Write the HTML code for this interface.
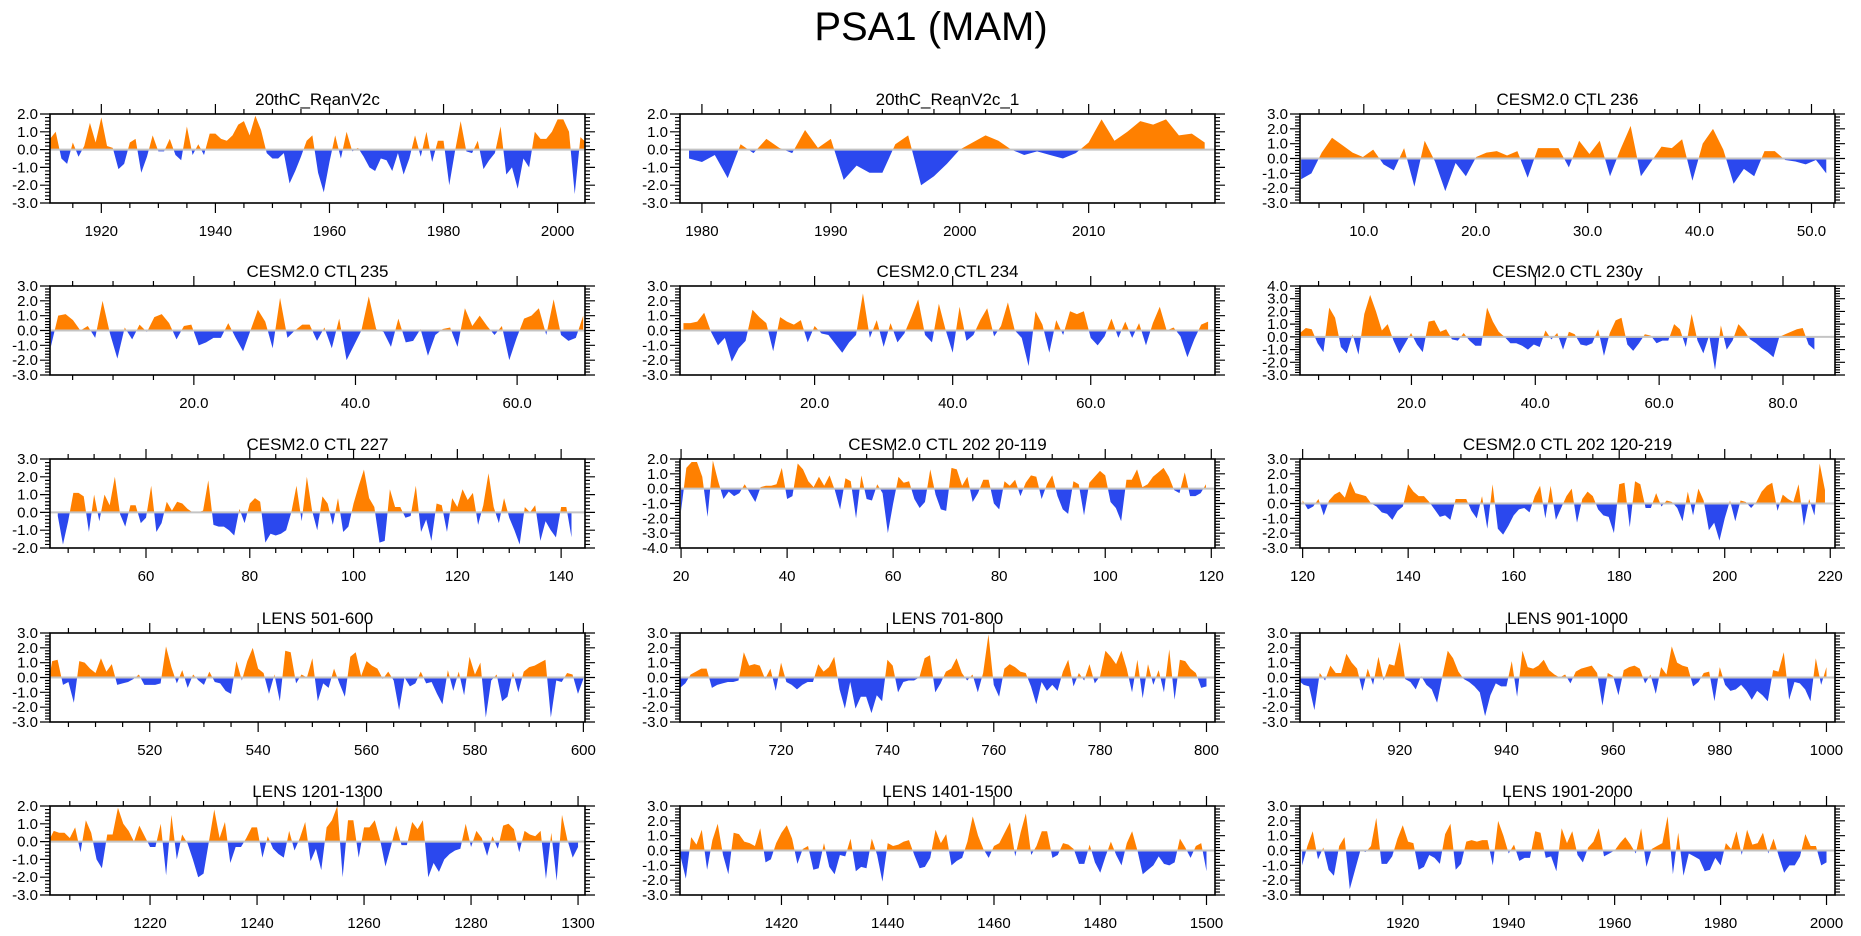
<!DOCTYPE html>
<html>
<head>
<meta charset="utf-8">
<style>
  html,body{margin:0;padding:0;background:#fff;}
  svg{display:block;font-family:"Liberation Sans",Arial,sans-serif;}
</style>
</head>
<body>
<svg id="chart" width="1861" height="936" viewBox="0 0 1861 936" xmlns="http://www.w3.org/2000/svg">
  <text x="931" y="40" text-anchor="middle" font-size="40" fill="#000">PSA1 (MAM)</text>
</svg>
<script>
// ---------- data (one array per panel) ----------
const p1Title = "20thC_ReanV2c";
const p1Start = 1911;
const p1Vals = [0.6,1.0,-0.5,-0.8,0.4,-0.4,0.2,1.5,0.4,1.8,0.2,0.1,-1.1,-0.8,0.4,0.6,-1.3,-0.4,0.8,-0.1,-0.1,0.6,-0.3,-0.6,1.3,-0.3,0.3,-0.3,0.9,0.9,0.6,0.5,0.8,1.4,1.6,0.8,1.9,1.1,-0.2,-0.5,-0.5,-0.2,-1.9,-1.2,-0.4,0.5,0.8,-1.3,-2.4,-0.7,0.8,-0.5,1.0,-0.1,0.1,-0.4,-1.0,-1.2,-0.5,-0.6,-1.2,-0.2,-1.4,-0.5,0.8,-0.4,1.0,-0.7,0.5,0.5,-2.0,-0.1,1.6,-0.1,-0.2,0.5,-1.1,-0.6,-0.2,1.3,-1.4,-1.0,-2.2,-0.5,-1.0,1.0,0.6,0.6,1.0,1.7,1.7,1.0,-2.5,0.7,0.4];

const p2Title = "20thC_ReanV2c_1";
const p2Start = 1979;
const p2Vals = [-0.5,-0.7,-0.3,-1.6,0.3,-0.2,0.6,0.1,-0.2,1.1,0.1,0.6,-1.7,-0.9,-1.3,-1.3,0.3,0.8,-2.0,-1.5,-0.8,0.0,0.4,0.8,0.5,0.0,-0.3,-0.1,-0.3,-0.5,-0.2,0.4,1.7,0.5,1.0,1.6,1.4,1.7,0.8,0.9,0.4];

const p3Title = "CESM2.0 CTL 236";
const p3Start = 4.4;
const p3Vals = [-1.4,-1.0,0.4,1.4,0.9,0.4,0.1,0.6,-0.4,-0.8,0.7,-1.9,1.2,-0.2,-2.2,-0.3,-1.2,0.1,0.4,0.5,0.2,0.5,-1.3,0.7,0.7,0.7,-0.6,1.2,0.3,1.2,-1.2,0.6,2.2,-1.2,-0.2,0.8,0.7,1.3,-1.5,1.0,2.0,0.6,-1.7,-0.7,-1.2,0.5,0.5,-0.1,-0.2,-0.4,-0.1,-1.0];

const p4Title = "CESM2.0 CTL 235";
const p4Start = 2.3;
const p4Vals = [-1.1,1.0,1.1,0.7,0.0,0.3,-0.5,2.0,-0.2,-1.9,0.2,-0.6,0.4,-0.1,0.9,1.1,0.5,-0.6,0.3,0.4,-1.0,-0.8,-0.5,-0.5,0.5,-0.5,-1.4,0.0,1.4,0.6,-1.2,2.2,-0.5,0.0,0.4,0.4,-0.7,0.2,-1.2,0.8,-2.0,-1.0,0.0,2.3,0.1,-0.1,-1.1,0.8,-0.8,-0.7,0.1,-1.7,-0.3,0.1,0.2,-1.1,1.5,0.3,1.0,0.3,-0.3,0.3,-2.0,-0.5,0.8,1.0,1.5,-0.3,2.1,-0.3,-0.7,-0.5,1.0];

const p5Title = "CESM2.0 CTL 234";
const p5Start = 1;
const p5Vals = [0.5,0.5,0.6,1.2,-0.1,-1.0,-0.5,-2.1,-1.2,-0.7,1.4,0.9,0.5,-1.4,0.9,0.6,0.4,0.7,-0.8,0.3,-0.2,-0.3,-0.9,-1.5,-0.8,-0.3,2.5,-0.5,0.7,-1.1,0.5,-0.8,-0.2,0.9,2.1,-0.3,-0.8,1.8,0.0,-1.5,1.6,-0.7,-0.3,0.7,1.5,-0.4,0.3,1.9,0.0,-0.5,-2.4,1.3,0.4,-1.5,0.7,-0.3,1.3,1.1,1.3,-0.5,-1.0,-0.4,0.8,-0.5,0.6,-0.5,0.5,-1.0,0.5,1.6,0.0,0.2,-0.4,-1.8,-0.6,0.4,0.6];

const p6Title = "CESM2.0 CTL 230y";
const p6Start = 2;
const p6Vals = [0.3,0.7,0.6,-0.5,-1.2,2.3,1.5,-0.8,-1.3,0.2,-1.4,1.8,3.3,2.0,0.5,1.0,-0.3,-1.3,-0.5,0.3,-0.6,-1.2,1.2,1.3,0.4,0.6,-0.2,-0.3,0.3,-0.3,-0.7,-0.7,2.3,1.2,0.4,0.0,-0.5,-0.5,-0.7,-1.0,-0.6,-0.8,0.5,-0.2,0.3,-1.0,0.4,0.2,-0.6,-0.7,-0.5,0.6,-1.5,0.3,1.3,1.5,-0.6,-1.1,-0.5,0.2,0.1,-0.5,-0.3,-0.3,1.0,0.6,-0.8,1.8,-0.3,-1.3,0.1,-2.6,0.9,-1.0,-0.3,1.0,0.5,-0.2,-0.5,-0.9,-1.2,-1.6,0.0,0.2,0.4,0.6,0.7,-0.6,-1.0];

const p7Title = "CESM2.0 CTL 227";
const p7Start = 43;
const p7Vals = [-0.2,-1.8,-0.5,1.1,1.1,0.9,-1.1,1.0,-0.5,1.0,0.4,2.0,-0.1,-0.8,0.4,0.4,-0.6,-0.3,1.5,-1.1,-0.6,0.6,0.1,0.6,0.5,0.2,0.0,0.0,0.1,1.8,-0.7,-0.8,-0.8,-1.0,-1.3,0.2,-0.6,0.5,0.8,0.6,-1.7,-1.2,-1.3,-1.2,-1.0,0.0,1.5,-0.5,2.0,0.1,-1.0,0.9,0.5,-0.7,0.8,-1.1,-0.8,0.5,1.5,2.4,0.8,0.3,-1.7,-1.6,1.3,0.3,0.3,-0.3,-0.2,1.5,-1.1,-0.4,-1.6,0.5,0.4,-1.1,0.8,0.3,1.3,0.7,1.1,-0.7,0.4,2.2,0.3,-0.6,0.8,-0.3,-1.0,-1.8,0.3,0.0,0.4,-1.6,-0.5,-1.0,-1.4,0.3,0.3,-1.4];

const p8Title = "CESM2.0 CTL 202 20-119";
const p8Start = 20;
const p8Vals = [-1.5,1.4,1.8,1.8,0.8,-1.9,1.9,0.5,-0.7,-0.2,-0.5,-0.3,0.3,-0.3,-0.9,0.1,0.2,0.2,0.3,1.4,-0.7,-0.5,1.7,1.3,0.5,0.1,0.8,0.2,0.9,-0.1,-1.4,0.7,0.5,-2.0,0.9,-0.7,-0.8,0.3,-0.3,-3.0,-1.0,0.8,0.4,0.5,-0.7,-1.3,-0.9,1.3,-0.4,-1.4,-1.5,1.4,1.3,0.2,0.8,-0.9,-0.3,0.6,0.6,-1.0,-1.4,0.5,0.2,0.6,-0.5,0.4,0.9,0.8,-0.7,0.3,0.9,-0.5,-1.4,-1.7,0.5,0.3,-1.8,0.4,0.8,1.2,0.9,-0.9,-1.3,-2.2,0.6,0.6,1.3,0.1,0.3,0.8,1.1,1.4,0.8,-0.1,-0.3,1.1,-0.5,-0.5,-0.3,0.3];

const p9Title = "CESM2.0 CTL 202 120-219";
const p9Start = 120;
const p9Vals = [0.2,-0.4,-0.2,0.3,-0.8,0.2,0.6,0.8,0.4,1.5,0.7,0.6,0.5,0.0,-0.2,-0.6,-0.7,-1.1,-0.5,-0.2,1.3,0.8,0.5,0.5,0.1,-0.4,-0.9,-0.8,-1.1,0.3,0.3,0.3,-0.5,-1.0,0.5,-1.7,1.3,-1.7,-2.1,-1.5,-0.8,-0.4,-0.3,-0.6,0.5,1.2,-1.0,1.2,-1.1,-0.3,0.5,1.0,-1.3,0.3,0.8,0.5,-0.4,-0.8,-0.9,-2.0,1.3,1.4,-1.6,1.5,1.3,-0.3,-0.3,0.7,-0.2,0.2,0.1,-0.3,-1.2,0.8,-0.8,1.0,0.2,-1.8,-1.3,-2.5,-1.0,0.2,-1.2,0.2,0.1,-0.3,0.1,0.8,1.2,1.4,-0.5,0.6,0.3,0.1,1.3,-1.5,0.3,-0.8,2.7,0.9];

const p10Title = "LENS 501-600";
const p10Start = 501;
const p10Vals = [-1.0,1.1,1.2,-0.5,-0.3,-1.7,1.1,1.0,0.6,0.3,1.3,0.4,0.9,-0.5,-0.4,-0.3,-0.1,0.2,-0.5,-0.5,-0.5,-0.4,2.1,0.7,-0.4,0.5,-0.7,0.2,-0.2,-0.5,0.4,-0.3,-0.4,-0.9,-1.1,1.1,-0.2,1.1,2.0,0.6,0.3,-1.1,0.2,-1.6,1.8,1.7,-0.4,0.2,0.0,1.3,-1.6,-0.4,-0.7,0.6,-0.4,-1.3,1.4,1.7,0.1,1.1,0.8,0.6,-0.1,0.4,-0.2,-2.2,0.0,-0.6,-0.4,0.4,-0.4,-0.3,-1.1,-1.8,0.5,-0.9,0.4,-1.2,1.4,0.2,1.0,-2.7,-0.2,0.2,-1.6,-1.3,0.4,-1.0,0.4,0.7,0.8,1.0,1.2,-2.7,-0.2,-0.3,0.3,0.2,-1.1,-0.1];

const p11Title = "LENS 701-800";
const p11Start = 701;
const p11Vals = [-0.7,-0.4,0.2,0.4,0.6,0.6,-0.7,-0.5,-0.4,-0.3,-0.3,-0.2,1.7,0.8,0.9,0.8,-0.1,0.6,-0.9,1.0,-0.3,-0.5,-0.8,-0.5,-0.3,-0.3,0.9,0.4,0.7,1.4,-0.8,-2.1,-0.3,-2.1,-1.3,-1.3,-2.4,-1.2,-1.6,1.2,0.8,-1.0,-0.3,-0.2,-0.2,0.0,1.3,1.5,-1.0,-0.4,0.4,0.6,1.3,0.3,-0.2,0.2,-1.0,0.3,2.9,-0.5,-1.3,0.6,0.9,0.7,0.4,0.3,-0.6,-1.8,-0.3,-0.9,-0.5,-0.9,0.4,1.2,-0.6,0.3,-0.2,0.9,-0.4,0.1,1.8,1.4,0.9,1.8,0.6,-1.0,1.2,-1.4,0.9,-0.5,0.5,-1.0,1.9,-1.5,1.2,1.1,0.6,0.3,-0.7,-0.6];

const p12Title = "LENS 901-1000";
const p12Start = 901;
const p12Vals = [-0.2,-0.5,-0.6,-2.2,0.3,-0.2,0.8,0.3,0.3,1.6,1.0,0.6,-0.9,0.6,-0.5,1.4,-0.2,0.9,0.8,2.4,-0.1,-0.3,-0.8,0.1,-0.5,-0.8,-1.7,0.1,1.8,1.3,0.4,-0.1,-0.3,-0.6,-1.0,-2.6,-1.2,-0.4,-0.6,-0.6,1.1,-1.3,1.8,0.7,0.6,0.8,1.2,0.5,0.2,0.0,0.2,-0.4,0.4,0.6,0.7,0.8,0.3,-1.9,0.3,0.1,-1.2,0.5,0.7,0.8,0.6,-0.4,0.2,-1.1,0.7,0.2,2.1,1.0,0.8,0.7,-0.6,-0.3,0.3,0.4,-1.6,0.7,-0.5,-0.9,-0.8,-0.5,-0.9,-1.5,-0.9,-1.2,-1.6,0.5,0.4,1.7,-1.5,-0.3,-0.4,-0.8,-1.6,1.3,-0.5,0.7];

const p13Title = "LENS 1201-1300";
const p13Start = 1201;
const p13Vals = [0.0,0.6,0.5,0.5,0.2,0.8,-0.6,1.2,0.5,-1.0,-1.5,0.4,0.4,1.9,1.0,0.6,0.0,0.9,0.3,-0.3,-0.3,1.0,-1.9,1.5,-1.0,0.4,-0.1,-1.0,-2.0,-1.8,0.0,1.8,0.2,1.1,-1.2,-0.3,-0.3,0.2,0.8,0.8,-0.9,0.3,-0.4,-0.7,-0.9,0.6,-0.5,0.2,1.1,-1.1,-0.4,-1.6,0.8,1.2,2.0,-2.0,1.2,1.2,-0.9,0.8,0.8,1.2,0.1,-1.4,-0.3,0.9,-0.2,-0.2,1.1,0.7,1.2,-2.0,-1.2,-1.7,-1.0,-0.7,-0.5,-0.4,1.0,-0.3,0.6,0.2,-0.8,0.3,-0.4,0.9,1.0,0.7,-0.6,0.6,0.4,0.3,0.6,-2.1,0.5,-2.2,1.5,0.1,-0.9,-0.3];

const p14Title = "LENS 1401-1500";
const p14Start = 1401;
const p14Vals = [-0.4,-1.9,0.9,0.4,1.4,-1.3,0.7,1.8,-0.3,-1.6,1.2,1.1,0.6,0.5,0.3,1.5,-0.8,-0.6,0.5,1.2,1.7,0.8,-0.9,0.1,0.3,-1.3,-1.2,0.5,-1.1,-1.6,-0.3,-0.4,0.8,-1.4,-1.1,-1.2,0.8,-0.3,-2.1,0.5,0.3,0.4,0.6,0.7,-0.3,-1.2,-1.1,-0.5,1.4,0.5,1.1,-1.0,-0.7,-0.5,0.6,2.3,1.0,0.1,-0.5,0.3,0.5,1.2,1.9,-0.4,1.2,2.5,-0.3,0.3,1.3,1.3,-0.5,-0.3,0.5,0.4,0.1,-0.9,-0.9,0.4,-0.8,-1.5,-0.4,0.6,-0.3,-1.0,0.5,1.3,0.0,-1.6,-1.3,-1.0,-0.4,-0.9,-1.0,-0.8,0.8,0.2,-0.5,0.3,0.5,-1.4];

const p15Title = "LENS 1901-2000";
const p15Start = 1901;
const p15Vals = [-1.0,0.3,1.3,-0.6,0.2,-1.3,-1.7,0.3,0.9,-2.6,-1.3,0.0,-0.1,0.3,2.2,-0.9,-0.9,-0.4,0.8,1.7,0.6,0.5,-1.3,-1.1,-0.3,-0.5,-0.9,1.1,1.8,-1.3,-0.9,0.6,0.7,0.6,0.7,0.7,-1.0,2.0,1.0,-0.2,0.4,-0.7,-0.5,-0.5,1.3,1.2,-0.5,-0.4,-1.4,1.5,0.5,1.3,-0.3,-0.8,0.2,0.6,1.5,-0.4,-0.2,0.0,0.5,0.9,0.4,-0.2,1.5,-1.1,0.1,0.3,0.5,2.3,-1.6,1.2,-1.7,-0.2,-0.4,-0.6,-1.4,-1.3,-0.5,-1.0,0.5,0.1,1.3,-0.3,1.4,0.4,0.5,1.2,-0.2,0.8,-0.4,-1.5,-1.0,-1.0,-0.4,1.1,0.3,0.3,-1.0,-0.8];

// ---------- layout ----------
const PW = 535, PH = 89;
const colX = [50, 680, 1300];
const rowY = [114, 286, 459, 633, 806];
const panels = [
  {id:1, title:p1Title, start:p1Start, step:1, vals:p1Vals, c:0,r:0, xmin:1911,xmax:2004.8, ymin:-3,ymax:2, major:20, minor:5, fmt:0},
  {id:2, title:p2Title, start:p2Start, step:1, vals:p2Vals, c:1,r:0, xmin:1978.3,xmax:2019.8, ymin:-3,ymax:2, major:10, minor:2, fmt:0},
  {id:3, title:p3Title, start:p3Start, step:0.92, vals:p3Vals, c:2,r:0, xmin:4.3,xmax:52.1, ymin:-3,ymax:3, major:10, minor:2, fmt:1},
  {id:4, title:p4Title, start:p4Start, step:0.915, vals:p4Vals, c:0,r:1, xmin:2.2,xmax:68.4, ymin:-3,ymax:3, major:20, minor:5, fmt:1},
  {id:5, title:p5Title, start:p5Start, step:1, vals:p5Vals, c:1,r:1, xmin:0.5,xmax:78.0, ymin:-3,ymax:3, major:20, minor:5, fmt:1},
  {id:6, title:p6Title, start:p6Start, step:0.944, vals:p6Vals, c:2,r:1, xmin:2.0,xmax:88.4, ymin:-3,ymax:4, major:20, minor:5, fmt:1},
  {id:7, title:p7Title, start:p7Start, step:1, vals:p7Vals, c:0,r:2, xmin:41.5,xmax:144.6, ymin:-2,ymax:3, major:20, minor:5, fmt:0},
  {id:8, title:p8Title, start:p8Start, step:1, vals:p8Vals, c:1,r:2, xmin:19.8,xmax:120.7, ymin:-4,ymax:2, major:20, minor:5, fmt:0},
  {id:9, title:p9Title, start:p9Start, step:1, vals:p9Vals, c:2,r:2, xmin:119.5,xmax:220.9, ymin:-3,ymax:3, major:20, minor:5, fmt:0},
  {id:10, title:p10Title, start:p10Start, step:1, vals:p10Vals, c:0,r:3, xmin:501.6,xmax:600.3, ymin:-3,ymax:3, major:20, minor:5, fmt:0},
  {id:11, title:p11Title, start:p11Start, step:1, vals:p11Vals, c:1,r:3, xmin:701.0,xmax:801.6, ymin:-3,ymax:3, major:20, minor:5, fmt:0},
  {id:12, title:p12Title, start:p12Start, step:1, vals:p12Vals, c:2,r:3, xmin:901.3,xmax:1001.6, ymin:-3,ymax:3, major:20, minor:5, fmt:0},
  {id:13, title:p13Title, start:p13Start, step:1, vals:p13Vals, c:0,r:4, xmin:1201.3,xmax:1301.3, ymin:-3,ymax:2, major:20, minor:5, fmt:0},
  {id:14, title:p14Title, start:p14Start, step:1, vals:p14Vals, c:1,r:4, xmin:1400.9,xmax:1501.6, ymin:-3,ymax:3, major:20, minor:5, fmt:0},
  {id:15, title:p15Title, start:p15Start, step:1, vals:p15Vals, c:2,r:4, xmin:1900.6,xmax:2001.6, ymin:-3,ymax:3, major:20, minor:5, fmt:0}
];

const NS = "http://www.w3.org/2000/svg";
const svg = document.getElementById("chart");
function mk(tag, attrs, parent){
  const e = document.createElementNS(NS, tag);
  for (const k in attrs) e.setAttribute(k, attrs[k]);
  parent.appendChild(e);
  return e;
}

panels.forEach(p => {
  const L = colX[p.c], T = rowY[p.r];
  const sx = v => L + (v - p.xmin) / (p.xmax - p.xmin) * PW;
  const sy = v => T + (p.ymax - v) / (p.ymax - p.ymin) * PH;
  const xAt = i => p.start + i * p.step;
  const g = mk("g", {}, svg);
  
  

  const title = mk("text", {x: L + PW/2, y: T - 9, "text-anchor":"middle", "font-size":"17", fill:"#000"}, g);
  title.textContent = p.title;
  
  

  const z = sy(0);
  const defs = mk("defs", {}, g);
  const cpA = mk("clipPath", {id:"ca"+p.id}, defs);
  mk("rect", {x:L, y:T, width:PW, height:Math.max(0, z - T)}, cpA);
  const cpB = mk("clipPath", {id:"cb"+p.id}, defs);
  mk("rect", {x:L, y:z, width:PW, height:Math.max(0, T + PH - z)}, cpB);

  const pts = p.vals.map((v,i) => sx(xAt(i)).toFixed(2) + "," + sy(v).toFixed(2));
  const x0 = sx(xAt(0)), x1 = sx(xAt(p.vals.length - 1));
  const d = "M" + pts.join("L") + "L" + x1.toFixed(2) + "," + z.toFixed(2) + "L" + x0.toFixed(2) + "," + z.toFixed(2) + "Z";

  const pos = mk("path", {d: d, fill:"#ff8000", "clip-path":"url(#ca"+p.id+")"}, g);
  
  
  const neg = mk("path", {d: d, fill:"#2b48ee", "clip-path":"url(#cb"+p.id+")"}, g);
  
  

  const zl = mk("line", {x1:L, x2:L+PW, y1:z, y2:z, stroke:"#c4c4c4", "stroke-width":"2"}, g);
  
  

  const frame = mk("rect", {x:L, y:T, width:PW, height:PH, fill:"none", stroke:"#000", "stroke-width":"1.6"}, g);
  
  

  let tp = "";
  const eps = 1e-6;
  for (let v = Math.ceil((p.xmin - eps) / p.minor) * p.minor; v <= p.xmax + eps; v += p.minor) {
    const X = sx(v).toFixed(2);
    const isMaj = Math.abs(v / p.major - Math.round(v / p.major)) < 1e-6;
    const len = isMaj ? 10 : 5;
    tp += `M${X},${T}V${T-len}M${X},${T+PH}V${T+PH+len}`;
    if (isMaj) {
      const lb = mk("text", {x:X, y:T+PH+33, "text-anchor":"middle", "font-size":"15", fill:"#000"}, g);
      lb.textContent = p.fmt ? v.toFixed(1) : String(Math.round(v));
      
      
    }
  }
  for (let v = p.ymin; v <= p.ymax + eps; v += 0.2) {
    const Y = sy(v).toFixed(2);
    const isMaj = Math.abs(v - Math.round(v)) < 1e-6;
    const len = isMaj ? 10 : 5;
    tp += `M${L},${Y}H${L-len}M${L+PW},${Y}H${L+PW+len}`;
    if (isMaj) {
      const lb = mk("text", {x:L-12, y:(+Y)+5, "text-anchor":"end", "font-size":"15", fill:"#000"}, g);
      lb.textContent = Math.round(v).toFixed(1);
      
      
    }
  }
  const ticks = mk("path", {d: tp, stroke:"#000", "stroke-width":"1.2", fill:"none"}, g);
  
  
});
</script>
</body>
</html>
